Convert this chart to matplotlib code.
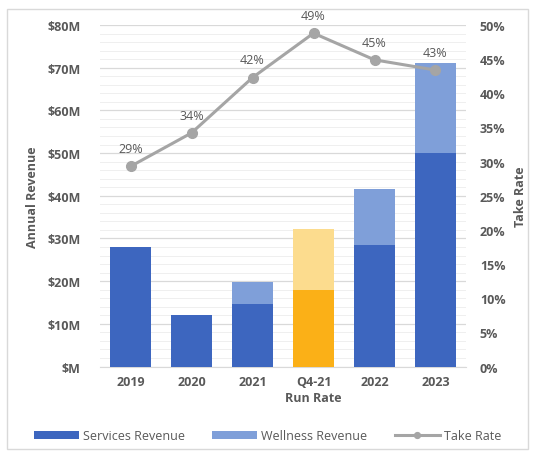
import numpy as np
from matplotlib import pyplot as plt
from matplotlib.ticker import FuncFormatter, MultipleLocator
from matplotlib.patches import Rectangle

categories = ["2019", "2020", "2021", "Q4-21\nRun Rate", "2022", "2023"]
services = [28, 12, 14.6, 18, 28.4, 50]        # $M
wellness = [0, 0, 5.2, 14.1, 13.3, 21]        # $M, stacked on services
take_rate = [29.3, 34.2, 42.3, 48.8, 44.9, 43.4]  # %
take_labels = ["29%", "34%", "42%", "49%", "45%", "43%"]

plt.rcParams["font.family"] = ["Open Sans", "DejaVu Sans"]
txt = "#595959"

fig = plt.figure(figsize=(5.35, 4.56), dpi=100)
fig.patches.append(Rectangle((0.013, 0.013), 0.974, 0.965, transform=fig.transFigure,
                             fill=False, edgecolor="#d9d9d9", lw=1))
ax = fig.add_axes([0.187, 0.194, 0.684, 0.749])

x = np.arange(len(categories))
svc_col = ["#3d66bf"] * 6
wel_col = ["#7f9fd9"] * 6
svc_col[3] = "#fbb017"
wel_col[3] = "#fcdc8e"

b1 = ax.bar(x, services, width=0.67, color=svc_col, zorder=3, label="Services Revenue")
b2 = ax.bar(x, wellness, width=0.67, bottom=services, color=wel_col, zorder=3, label="Wellness Revenue")

ax.set_xlim(-0.5, 5.5)
ax.set_ylim(0, 80)
ax.yaxis.set_major_locator(MultipleLocator(10))
ax.yaxis.set_minor_locator(MultipleLocator(2))
ax.yaxis.set_major_formatter(FuncFormatter(lambda v, p: "$%dM" % v if v else "$M"))
ax.grid(axis="y", which="major", color="#d9d9d9", lw=0.9, zorder=0)
ax.grid(axis="y", which="minor", color="#efefef", lw=0.7, zorder=0)
for s in ax.spines.values():
    s.set_visible(False)
ax.spines["bottom"].set_visible(True)
ax.spines["bottom"].set_color("#d9d9d9")
ax.tick_params(axis="both", which="both", length=0, colors=txt)
ax.set_xticks(x)
ax.set_xticklabels(categories, fontsize=9, fontweight="bold", color=txt, linespacing=1.3)
for lab in ax.get_yticklabels():
    lab.set_fontsize(9)
    lab.set_fontweight("bold")
ax.tick_params(axis="y", pad=14)
ax.tick_params(axis="x", pad=6)
ax.set_ylabel("Annual Revenue", fontsize=9, fontweight="bold", color=txt, labelpad=6)

ax2 = ax.twinx()
ax2.set_ylim(0, 50)
ax2.yaxis.set_major_locator(MultipleLocator(5))
ax2.yaxis.set_major_formatter(FuncFormatter(lambda v, p: "%d%%" % v))
for s in ax2.spines.values():
    s.set_visible(False)
ax2.tick_params(axis="y", length=0, colors=txt, pad=10)
for lab in ax2.get_yticklabels():
    lab.set_fontsize(9)
    lab.set_fontweight("bold")
ax2.set_ylabel("Take Rate", fontsize=9, fontweight="bold", color=txt, labelpad=6)
ln, = ax2.plot(x, take_rate, color="#a5a5a5", lw=2.2, marker="o", ms=7, zorder=4, label="Take Rate")
for xi, yi, t in zip(x, take_rate, take_labels):
    ax2.annotate(t, (xi, yi), xytext=(0, 8), textcoords="offset points", ha="center",
                 va="bottom", fontsize=9, color=txt)

fig.legend(handles=[b1, b2, ln], loc="center", bbox_to_anchor=(0.5, 0.042), ncol=3,
           frameon=False, fontsize=9, labelcolor=txt, handlelength=3.6, columnspacing=2.2,
           handletextpad=0.3, markerscale=0.6)

plt.savefig("out.png", dpi=100)
